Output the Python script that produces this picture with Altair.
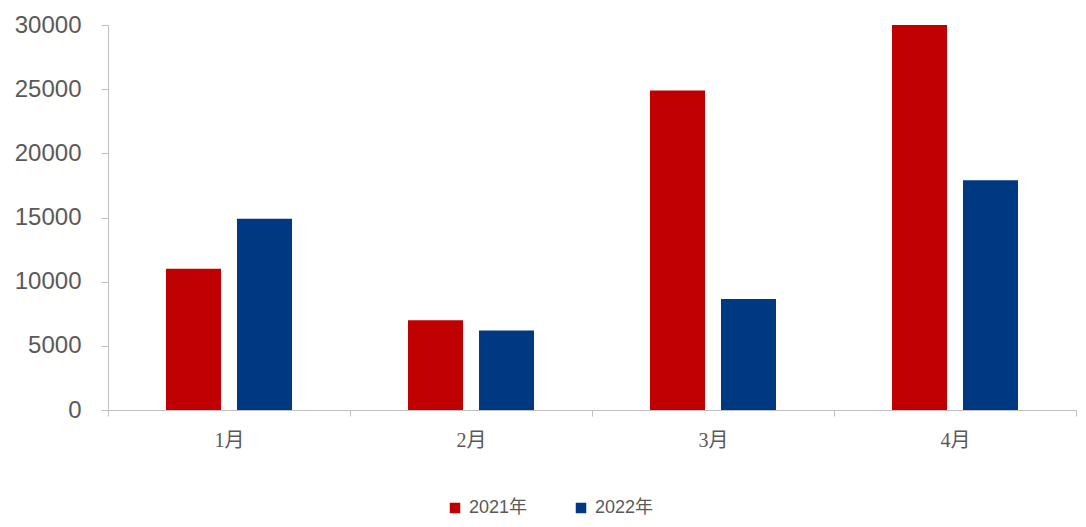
import altair as alt
import pandas as pd

months = ["1月", "2月", "3月", "4月"]
series = ["2021年", "2022年"]
values_2021 = [11000, 7000, 24900, 30000]
values_2022 = [14900, 6200, 8650, 17900]
y_ticks = [0, 5000, 10000, 15000, 20000, 25000, 30000]
colors = ["#C00000", "#003882"]

rows = []
for m, a, b in zip(months, values_2021, values_2022):
    rows.append({"月份": m, "年份": series[0], "值": a})
    rows.append({"月份": m, "年份": series[1], "值": b})
df = pd.DataFrame(rows)

axis_gray = "#BFBFBF"
text_gray = "#595959"

chart = (
    alt.Chart(df)
    .mark_bar()
    .encode(
        x=alt.X(
            "月份:N",
            sort=months,
            title=None,
            scale=alt.Scale(paddingInner=0, paddingOuter=0),
            axis=alt.Axis(
                labelAngle=0,
                tickBand="extent",
                tickSize=6,
                tickColor=axis_gray,
                domainColor=axis_gray,
                labelFont="Liberation Serif, Noto Sans CJK SC",
                labelFontSize=20,
                labelColor=text_gray,
                labelPadding=14,
                grid=False,
            ),
        ),
        xOffset=alt.XOffset(
            "年份:N",
            sort=series,
            scale=alt.Scale(paddingInner=0.225, paddingOuter=0.817),
        ),
        y=alt.Y(
            "值:Q",
            title=None,
            scale=alt.Scale(domain=[0, 30000], nice=False),
            axis=alt.Axis(
                values=y_ticks,
                tickSize=7,
                tickColor=axis_gray,
                domainColor=axis_gray,
                labelFont="Liberation Sans",
                labelFontSize=24,
                labelColor=text_gray,
                labelPadding=20,
                grid=False,
                format="d",
            ),
        ),
        color=alt.Color(
            "年份:N",
            sort=series,
            scale=alt.Scale(domain=series, range=colors),
            legend=alt.Legend(
                title=None,
                orient="none",
                direction="horizontal",
                legendX=338,
                legendY=474,
                symbolType="square",
                symbolSize=110,
                symbolStrokeWidth=0,
                labelFont="Liberation Sans, Noto Sans CJK SC",
                labelFontSize=18,
                labelColor=text_gray,
                labelOffset=5,
                columnPadding=44,
            ),
        ),
    )
    .properties(
        width=968,
        height=385,
        padding={"left": 100, "top": 17, "right": 2, "bottom": 109},
        autosize=alt.AutoSizeParams(type="none"),
    )
    .configure_view(stroke=None)
)

chart.save("out.html", embed_options={"renderer": "svg", "actions": False})
